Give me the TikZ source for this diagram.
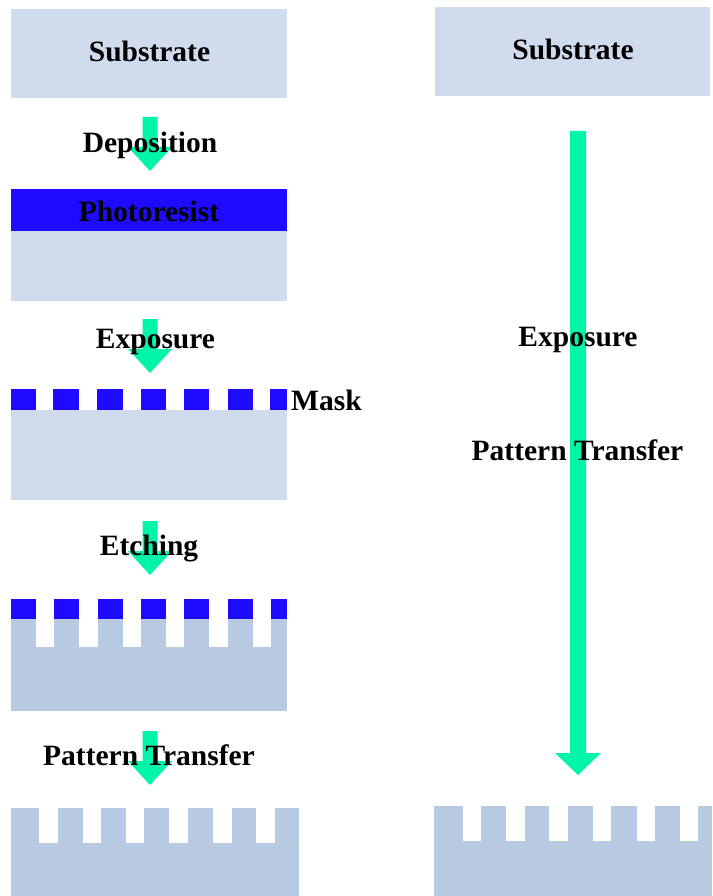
\documentclass[tikz,border=0pt]{standalone}
\usepackage{fontspec}
\setmainfont{Liberation Serif}
\definecolor{subA}{RGB}{208,220,238}
\definecolor{subB}{RGB}{184,202,226}
\definecolor{resist}{RGB}{30,10,255}
\definecolor{arrowc}{RGB}{0,245,168}
\begin{document}
\begin{tikzpicture}[x=1pt,y=-1pt,
  lbl/.style={anchor=base,inner sep=0pt,font=\fontsize{29.5}{32}\selectfont\bfseries,text=black},
  subfill/.style={fill=subA},
  etchfill/.style={fill=subB},
  resfill/.style={fill=resist},
  arrfill/.style={fill=arrowc}]
\useasboundingbox (0,0) rectangle (712,896);
% substrate boxes
\fill[subfill] (11,9) rectangle (287,98);
\fill[subfill] (435,7) rectangle (710,96);
% photoresist step
\fill[resfill] (11,189) rectangle (287,231);
\fill[subfill] (11,231) rectangle (287,301);
% mask step
\foreach \a/\b in {11/36,53/79,97/123,141/166,184/209,228/253,270/287}
  \fill[resfill] (\a,389) rectangle (\b,410);
\fill[subfill] (11,410) rectangle (287,500);
% etching step
\foreach \a/\b in {11/36,54/79,98/123,141/166,184/209,228/253,271/287}{
  \fill[resfill] (\a,599) rectangle (\b,619);
  \fill[etchfill] (\a,619) rectangle (\b,648);}
\fill[etchfill] (11,647) rectangle (287,711);
% final left
\foreach \a/\b in {11/39,58/83,101/126,144/169,188/213,232/256,275/299}
  \fill[etchfill] (\a,808) rectangle (\b,844);
\fill[etchfill] (11,843) rectangle (299,896);
% final right
\foreach \a/\b in {434/463,481/506,525/549,568/593,611/637,655/680,698/712}
  \fill[etchfill] (\a,806) rectangle (\b,842);
\fill[etchfill] (434,841) rectangle (712,896);
% small arrows
\foreach \t in {117,319,521,731}
  \fill[arrfill] (142.5,\t) -- (157.5,\t) -- (157.5,\t+30) -- (172,\t+30)
     -- (150,\t+54) -- (128,\t+30) -- (142.5,\t+30) -- cycle;
% long arrow
\fill[arrfill] (570,131) -- (586,131) -- (586,753) -- (601,753) -- (578,775)
   -- (555,753) -- (570,753) -- cycle;
% labels
\node[lbl] (sub1) at (149.5,62) {Substrate};
\node[lbl] (sub2) at (573,60) {Substrate};
\node[lbl] (dep) at (150,153) {Deposition};
\node[lbl] (pr) at (149,221) {Photoresist};
\node[lbl] (exp1) at (155.5,348) {Exposure};
\node[lbl,anchor=base west] (mask) at (291,410) {Mask};
\node[lbl] (etch) at (149,555) {Etching};
\node[lbl] (pt1) at (149,765) {Pattern Transfer};
\node[lbl] (exp2) at (578,346) {Exposure};
\node[lbl] (pt2) at (577.5,460) {Pattern Transfer};
\end{tikzpicture}
\end{document}
